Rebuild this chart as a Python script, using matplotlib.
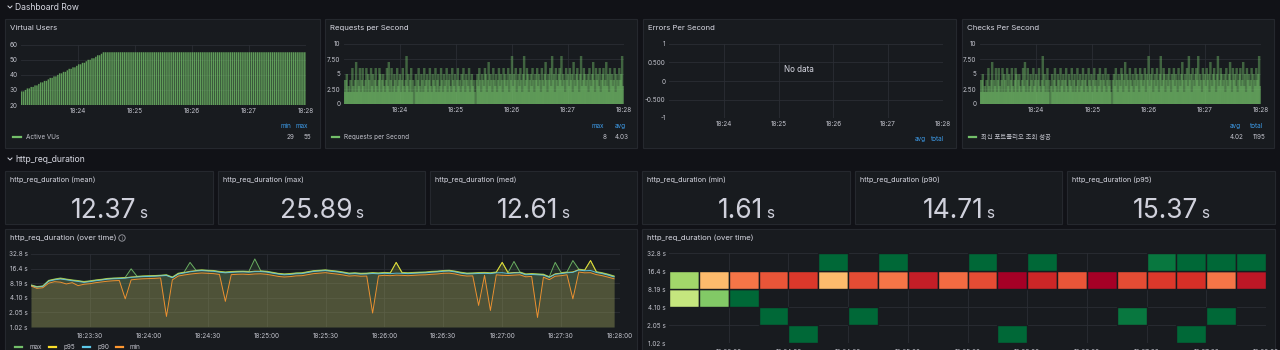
import numpy as np
import matplotlib.pyplot as plt
from matplotlib.patches import Rectangle, Circle
import matplotlib.ticker as mticker

plt.rcParams['font.family'] = ['Inter', 'Noto Sans CJK KR', 'DejaVu Sans']

# ---------------- data ----------------
top_tick_sec = [60, 120, 180, 240, 300]
top_tick_lbl = ['18:24', '18:25', '18:26', '18:27', '18:28']
low_tick_sec = [30, 60, 90, 120, 150, 180, 210, 240, 270, 300]
low_tick_lbl = ['18:23:30', '18:24:00', '18:24:30', '18:25:00', '18:25:30',
                '18:26:00', '18:26:30', '18:27:00', '18:27:30', '18:28:00']

# active VUs, one sample every 2 s
vus_ramp = [29, 29, 30, 31, 31, 32, 32, 33, 33, 34, 35, 35, 36, 36, 37, 38, 38, 39, 39, 40, 41, 41,
            42, 42, 43, 44, 44, 45, 45, 46, 47, 47, 48, 48, 49, 50, 50, 51, 51, 52, 53, 53, 54, 55]
vus = vus_ramp + [55] * 106

# requests per second (checks per second uses the same counts)
rps = [4, 2, 4, 5, 2, 3, 2, 4, 2, 6, 3, 2, 4, 7, 2, 4, 3, 6, 2, 4,
       6, 3, 2, 4, 6, 2, 5, 4, 2, 6, 3, 5, 2, 4, 6, 3, 2, 4, 6, 5,
       2, 4, 5, 3, 2, 4, 6, 3, 7, 2, 4, 6, 2, 3, 5, 4, 2, 6, 3, 4,
       5, 2, 4, 6, 3, 2, 4, 8, 3, 5, 2, 4, 6, 2, 4, 0, 3, 5, 2, 4,
       6, 3, 2, 5, 4, 2, 6, 3, 4, 5, 2, 4, 6, 3, 2, 5, 4, 3, 6, 2,
       4, 5, 2, 3, 6, 4, 2, 5, 3, 4, 6, 2, 4, 5, 3, 2, 6, 4, 3, 5,
       2, 4, 6, 3, 4, 2, 5, 3, 6, 4, 2, 5, 4, 3, 6, 2, 4, 5, 3, 4,
       2, 0, 4, 5, 3, 6, 4, 2, 5, 4, 3, 6, 5, 2, 4, 7, 3, 5, 4, 2,
       6, 4, 3, 5, 2, 4, 6, 3, 5, 4, 2, 6, 4, 5, 3, 4, 6, 2, 5, 4,
       8, 3, 5, 4, 6, 2, 4, 5, 3, 6, 4, 2, 5, 8, 3, 4, 6, 5, 2, 4,
       5, 3, 6, 4, 2, 5, 4, 6, 3, 5, 4, 2, 6, 4, 3, 5, 7, 4, 2, 5,
       4, 6, 3, 8, 4, 5, 2, 6, 4, 3, 5, 6, 4, 8, 3, 5, 4, 2, 6, 4,
       5, 3, 6, 4, 5, 2, 7, 4, 3, 5, 6, 4, 2, 5, 8, 3, 4, 6, 5, 3,
       4, 5, 2, 6, 4, 3, 5, 7, 4, 2, 6, 4, 5, 3, 6, 2, 4, 5, 6, 3,
       4, 7, 3, 5, 2, 6, 4, 5, 3, 4, 6, 2, 5, 4, 3, 6, 4, 5, 8, 3]

stat_titles = ['http_req_duration (mean)', 'http_req_duration (max)', 'http_req_duration (med)',
               'http_req_duration (min)', 'http_req_duration (p90)', 'http_req_duration (p95)']
stat_values = ['12.37', '25.89', '12.61', '1.61', '14.71', '15.37']

# http_req_duration over time, seconds, one sample every 3 s
dur_max = [7.6, 7.0, 7.2, 9.4, 10.0, 10.5, 10.0, 9.6, 9.3, 8.9,
           9.2, 9.6, 9.9, 10.3, 10.5, 10.6, 10.8, 16.2, 11.4, 11.6,
           11.7, 11.8, 12.0, 12.3, 11.0, 13.2, 13.9, 22.0, 15.2, 15.5,
           15.2, 15.0, 14.4, 14.0, 14.3, 14.5, 14.6, 14.4, 25.9, 14.8,
           14.5, 13.8, 13.1, 12.8, 13.0, 13.4, 13.5, 14.2, 14.9, 15.2,
           15.5, 15.0, 14.6, 14.0, 13.3, 13.5, 13.2, 13.3, 13.6, 13.4,
           13.7, 13.5, 22.0, 13.7, 13.5, 13.7, 13.9, 14.0, 14.4, 14.6,
           15.0, 15.2, 14.6, 13.8, 13.3, 13.4, 13.6, 13.7, 13.5, 14.0,
           22.0, 13.6, 23.0, 14.0, 12.8, 13.0, 12.8, 12.6, 11.2, 22.0,
           13.5, 14.0, 24.0, 16.0, 15.4, 24.0, 14.2, 13.5, 12.6, 11.6]
dur_p95 = [7.4, 6.9, 7.1, 9.2, 9.8, 10.2, 9.8, 9.4, 9.1, 8.7,
           9.0, 9.4, 9.7, 10.1, 10.3, 10.4, 10.6, 11.0, 11.2, 11.4,
           11.5, 11.6, 11.8, 12.0, 10.8, 12.9, 13.6, 14.4, 14.9, 15.2,
           14.9, 14.7, 14.1, 13.7, 14.0, 14.2, 14.3, 14.1, 14.5, 14.5,
           14.2, 13.5, 12.9, 12.5, 12.7, 13.1, 13.2, 13.9, 14.6, 14.9,
           15.2, 14.7, 14.3, 13.7, 13.0, 13.2, 12.9, 13.0, 13.3, 13.1,
           13.4, 13.2, 22.0, 13.4, 13.2, 13.4, 13.6, 13.7, 14.1, 14.3,
           14.7, 14.9, 14.3, 13.5, 13.0, 13.1, 13.3, 13.4, 13.2, 13.7,
           22.0, 13.3, 13.6, 13.7, 12.5, 12.7, 12.5, 12.3, 11.0, 12.8,
           13.2, 13.7, 14.0, 15.6, 15.1, 24.0, 13.9, 13.2, 12.3, 11.3]
dur_p90 = [7.3, 6.8, 7.0, 9.0, 9.6, 10.0, 9.6, 9.2, 8.9, 8.5,
           8.8, 9.2, 9.5, 9.9, 10.1, 10.2, 10.4, 10.8, 11.0, 11.2,
           11.3, 11.4, 11.6, 11.8, 10.6, 12.6, 13.3, 14.1, 14.6, 14.9,
           14.6, 14.4, 13.8, 13.4, 13.7, 13.9, 14.0, 13.8, 14.2, 14.2,
           13.9, 13.2, 12.6, 12.2, 12.4, 12.8, 12.9, 13.6, 14.3, 14.6,
           14.9, 14.4, 14.0, 13.4, 12.7, 12.9, 12.6, 12.7, 13.0, 12.8,
           13.1, 12.9, 13.2, 13.1, 12.9, 13.1, 13.3, 13.4, 13.8, 14.0,
           14.4, 14.6, 14.0, 13.2, 12.7, 12.8, 13.0, 13.1, 12.9, 13.4,
           13.5, 13.0, 13.3, 13.4, 12.2, 12.4, 12.2, 12.0, 10.8, 12.5,
           12.9, 13.4, 13.7, 15.3, 14.8, 15.0, 13.6, 12.9, 12.0, 11.0]
dur_min = [7.2, 6.4, 6.6, 8.2, 8.8, 8.6, 7.9, 8.4, 7.3, 7.8,
           8.0, 8.4, 8.7, 9.0, 9.2, 9.3, 3.9, 9.6, 9.9, 10.1,
           10.2, 10.3, 10.5, 1.69, 9.6, 11.5, 12.1, 12.6, 13.0, 13.3,
           13.1, 12.9, 12.4, 3.46, 12.3, 12.5, 12.6, 12.4, 12.7, 12.8,
           12.5, 11.9, 11.3, 11.0, 11.2, 11.6, 11.7, 12.3, 12.9, 13.2,
           13.5, 13.0, 12.6, 12.1, 11.5, 11.7, 11.4, 11.5, 1.99, 11.6,
           11.9, 11.7, 12.0, 11.9, 11.7, 11.9, 12.1, 12.2, 12.5, 12.7,
           13.1, 13.2, 12.7, 11.9, 11.5, 11.6, 2.85, 11.9, 2.25, 12.2,
           11.9, 11.8, 12.0, 12.2, 11.1, 11.3, 1.61, 10.9, 9.7, 11.4,
           11.7, 12.2, 3.9, 13.9, 13.4, 13.5, 12.3, 11.7, 10.9, 10.1]
dur_names = ['max', 'p95', 'p90', 'min']
dur_colors = ['#73bf69', '#fade2a', '#5cc8e8', '#ff9830']

# heatmap: counts per 15 s bucket, rows = duration buckets (bottom to top)
hm_buckets = ['1.02 s', '2.05 s', '4.10 s', '8.19 s', '16.4 s', '32.8 s']
hm_counts = [
    [0, 0, 0, 0, 1, 0, 0, 0, 0, 0, 0, 1, 0, 0, 0, 0, 0, 1, 0, 0],
    [0, 0, 0, 1, 0, 0, 1, 0, 0, 0, 0, 0, 0, 0, 0, 3, 0, 0, 1, 0],
    [23, 16, 1, 0, 0, 0, 0, 0, 0, 0, 0, 0, 0, 0, 0, 0, 0, 0, 0, 0],
    [19, 42, 49, 52, 55, 42, 53, 49, 58, 50, 53, 62, 57, 52, 62, 53, 55, 56, 49, 59],
    [0, 0, 0, 0, 0, 1, 0, 1, 0, 0, 1, 0, 1, 0, 0, 0, 3, 1, 1, 1],
]

# ---------------- figure ----------------
W, H = 1280, 350
BG, PANEL, EDGE = '#111217', '#181b1f', '#25282e'
TXT, TICK, GRID, BLUE = '#d8d9e3', '#c2c3cc', '#2b2e34', '#3d9be9'
GREEN = '#73bf69'
FS = 4.6

fig = plt.figure(figsize=(12.8, 3.5), dpi=100)
fig.patch.set_facecolor(BG)

bg = fig.add_axes([0, 0, 1, 1], zorder=-1)
bg.set_xlim(0, W)
bg.set_ylim(H, 0)
bg.axis('off')


def px_axes(x0, y0, x1, y1):
    ax = fig.add_axes([x0 / W, 1 - y1 / H, (x1 - x0) / W, (y1 - y0) / H])
    ax.set_facecolor('none')
    for s in ax.spines.values():
        s.set_visible(False)
    ax.tick_params(length=0, labelsize=FS, colors=TICK, pad=2.5)
    ax.grid(True, color=GRID, lw=0.6)
    ax.set_axisbelow(True)
    return ax


def panel(x0, y0, x1, y1, title=None):
    bg.add_patch(Rectangle((x0, y0), x1 - x0, y1 - y0, fc=PANEL, ec=EDGE, lw=0.8))
    if title:
        bg.text(x0 + 5, y0 + 9, title, fontsize=5.6, color=TXT, va='center', ha='left')


def chevron(x, y):
    bg.plot([x, x + 2, x + 4], [y - 1, y + 1, y - 1], color=TXT, lw=0.7)


def time_axis(ax, secs, labels):
    ax.set_xlim(0, 300)
    ax.set_xticks(secs)
    ax.set_xticklabels(labels)


# row headers
chevron(8, 7)
bg.text(15, 7, 'Dashboard Row', fontsize=6.2, color=TXT, va='center')
chevron(8, 159)
bg.text(15, 159, 'http_req_duration', fontsize=6.2, color=TXT, va='center')

# ---- Virtual Users ----
panel(5, 19, 320, 148, 'Virtual Users')
ax = px_axes(21, 44.7, 306, 105)
t_vu = np.arange(len(vus)) * 2
ax.bar(t_vu, vus, width=1.5, align='edge', color='#73bf69', alpha=0.8, lw=0, snap=False)
time_axis(ax, top_tick_sec, top_tick_lbl)
ax.set_ylim(20, 60)
ax.set_yticks([20, 30, 40, 50, 60])
bg.plot([13, 21], [137, 137], color=GREEN, lw=1.6)
bg.text(26, 137, 'Active VUs', fontsize=FS, color=TICK, va='center')
bg.text(291, 126, 'min', fontsize=FS, color=BLUE, va='center', ha='right')
bg.text(308, 126, 'max', fontsize=FS, color=BLUE, va='center', ha='right')
bg.text(294, 137, '29', fontsize=FS, color=TICK, va='center', ha='right')
bg.text(311, 137, '55', fontsize=FS, color=TICK, va='center', ha='right')

# ---- Requests per Second / Checks per Second ----
t_rps = np.arange(len(rps))
for (px0, px1, ax0, ax1, title, legend_lbl, heads, vals) in [
        (325, 637, 344, 624, 'Requests per Second', 'Requests per Second',
         ['max', 'avg'], ['8', '4.03']),
        (962, 1274, 980, 1261, 'Checks Per Second', '최신 포트폴리오 조회 성공',
         ['avg', 'total'], ['4.02', '1195'])]:
    panel(px0, 19, px1, 148, title)
    ax = px_axes(ax0, 44, ax1, 104)
    ax.bar(t_rps, rps, width=2.6, align='center', color=GREEN, alpha=0.45, lw=0, snap=False)
    time_axis(ax, top_tick_sec, top_tick_lbl)
    ax.set_ylim(0, 10)
    ax.set_yticks([0, 2.5, 5, 7.5, 10])
    ax.set_yticklabels(['0', '2.50', '5', '7.50', '10'])
    bg.plot([px0 + 7, px0 + 14], [137, 137], color=GREEN, lw=1.6)
    bg.text(px0 + 19, 137, legend_lbl, fontsize=FS, color=TICK, va='center')
    bg.text(px1 - 33, 126, heads[0], fontsize=FS, color=BLUE, va='center', ha='right')
    bg.text(px1 - 11, 126, heads[1], fontsize=FS, color=BLUE, va='center', ha='right')
    bg.text(px1 - 30, 137, vals[0], fontsize=FS, color=TICK, va='center', ha='right')
    bg.text(px1 - 8, 137, vals[1], fontsize=FS, color=TICK, va='center', ha='right')

# ---- Errors Per Second ----
panel(643, 19, 956, 148, 'Errors Per Second')
ax = px_axes(669, 44, 943, 118)
time_axis(ax, top_tick_sec, top_tick_lbl)
ax.set_ylim(-1, 1)
ax.set_yticks([-1, -0.5, 0, 0.5, 1])
ax.set_yticklabels(['-1', '-0.500', '0', '0.500', '1'])
bg.text(799, 70, 'No data', fontsize=5.8, color=TXT, va='center', ha='center')
bg.text(926, 139, 'avg', fontsize=FS, color=BLUE, va='center', ha='right')
bg.text(944, 139, 'total', fontsize=FS, color=BLUE, va='center', ha='right')

# ---- stat panels ----
stat_x = [(5, 213), (218, 425), (430, 637), (642, 850), (855, 1062), (1067, 1275)]
renderer = fig.canvas.get_renderer()
for (x0, x1), title, val in zip(stat_x, stat_titles, stat_values):
    panel(x0, 171, x1, 224)
    bg.text(x0 + 5, 180, title, fontsize=5.2, color=TXT, va='center')
    num = bg.text(0, 218, val, fontsize=19, color='#d0d1dc', va='baseline', ha='left')
    unit = bg.text(0, 218, 's', fontsize=11, color='#d0d1dc', va='baseline', ha='left')
    wn = num.get_window_extent(renderer).width
    wu = unit.get_window_extent(renderer).width
    left = (x0 + x1) / 2 - (wn + 3 + wu) / 2
    num.set_x(left)
    unit.set_x(left + wn + 3)

# ---- http_req_duration over time (lines) ----
panel(5, 229, 637, 380, 'http_req_duration (over time)')
bg.add_patch(Circle((122, 238), 3.2, fc='none', ec='#9fa0a8', lw=0.6))
bg.text(122, 238.3, 'i', fontsize=3.6, color='#9fa0a8', ha='center', va='center')
ax = px_axes(31, 254, 620, 327)
t_dur = np.arange(len(dur_max)) * 3
for vals, c in zip([dur_max, dur_p95, dur_p90, dur_min], dur_colors):
    ax.fill_between(t_dur, vals, 1.024, color=c, alpha=0.1, lw=0)
for vals, c in zip([dur_max, dur_p95, dur_p90, dur_min], dur_colors):
    ax.plot(t_dur, vals, color=c, lw=0.7, alpha=0.9)
ax.set_yscale('log', base=2)
ax.set_ylim(1.024, 32.768)
ax.set_yticks([1.024, 2.048, 4.096, 8.192, 16.384, 32.768])
ax.set_yticklabels(hm_buckets)
ax.yaxis.set_minor_locator(mticker.NullLocator())
time_axis(ax, low_tick_sec, low_tick_lbl)
ax.tick_params(axis='x', pad=4)
for lx, name, c in zip([15, 49, 83, 116], dur_names, dur_colors):
    bg.plot([lx, lx + 7], [347, 347], color=c, lw=1.6)
    bg.text(lx + 14, 347, name, fontsize=FS, color=TICK, va='center')

# ---- http_req_duration over time (heatmap) ----
panel(642, 229, 1275, 380, 'http_req_duration (over time)')
ax = px_axes(669, 253, 1266, 343)
cmap = plt.get_cmap('RdYlGn_r')
norm = plt.Normalize(1, 62)
for r, row in enumerate(hm_counts):
    for c, cnt in enumerate(row):
        if cnt > 0:
            ax.bar(c * 15, 1, bottom=r, width=15, align='edge',
                   color=cmap(norm(cnt)), edgecolor=PANEL, lw=1.0)
ax.set_ylim(0, 5)
ax.set_yticks(range(6))
ax.set_yticklabels(hm_buckets)
time_axis(ax, low_tick_sec, low_tick_lbl)
ax.tick_params(axis='x', pad=4)

fig.savefig('out.png', dpi=100, facecolor=BG)
